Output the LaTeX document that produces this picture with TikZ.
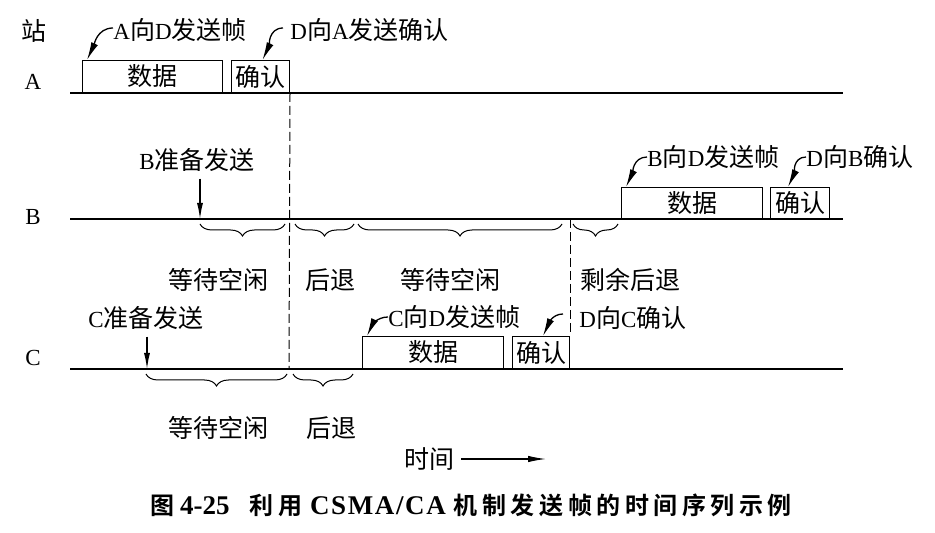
\documentclass[tikz,border=0pt]{standalone}
\usepackage{fontspec}
\setmainfont{Liberation Serif}
\newfontfamily\cjk{Noto Sans CJK SC}
\newfontfamily\cjkbold{Noto Sans CJK SC Bold}[LetterSpace=19]
\usetikzlibrary{arrows.meta, decorations.pathreplacing}
\newcommand{\zh}[1]{{\cjk\fontsize{12.5}{14}\selectfont #1}}

\begin{document}
\begin{tikzpicture}[x=0.5pt, y=-0.5pt,
          every node/.style={font=\fontsize{11.5}{14}\selectfont},
          frm/.style={draw, rectangle, inner sep=0pt, minimum height=16pt,
                      anchor=south west, line width=0.5pt},
          lbl/.style={inner sep=0pt, anchor=west},
          callarr/.style={-{Latex[length=9pt, width=3.6pt]}, line width=0.65pt},
          downarr/.style={-{Latex[length=8pt, width=3pt]}, line width=0.6pt},
          tline/.style={line width=0.7pt},
          vdash/.style={line width=0.5pt, dash pattern=on 4.5pt off 2pt},
          brc/.style={decorate, decoration={brace, mirror, amplitude=6pt},
                      line width=0.5pt}
        ]
        \useasboundingbox (0,0) rectangle (935,533);

        % Stations
        \node (hstn) at (34,31) {\zh{站}};
        \node (sa) at (33,82) {A};
        \node (sb) at (33,217) {B};
        \node (sc) at (33,358) {C};

        % Time lines
        \draw[tline] (70,93) -- (843,93);
        \draw[tline] (70,219) -- (843,219);
        \draw[tline] (70,369) -- (843,369);

        % Station A
        \node[frm, minimum width=70pt] (adata) at (82,93) {\zh{数据}};
        \node[frm, minimum width=29pt] (acfm) at (231,93) {\zh{确认}};
        \node[lbl] (tadf) at (113,30) {A\zh{向}D\zh{发送帧}};
        \node[lbl] (tdaa) at (290,30) {D\zh{向}A\zh{发送确认}};
        \draw[callarr] ([yshift=1pt]tadf.west) to[out=180, in=65]
              ([xshift=2.5pt]adata.north west);
        \draw[callarr] ([xshift=-3.5pt, yshift=1pt]tdaa.west) to[out=180, in=65]
              ([xshift=1pt]acfm.north);

        % Station B
        \node[frm, minimum width=70.5pt, minimum height=15.5pt] (bdata)
              at (621,219) {\zh{数据}};
        \node[frm, minimum width=29.5pt, minimum height=15.5pt] (bcfm)
              at (770,219) {\zh{确认}};
        \node[lbl] (tbdf) at (647,157) {B\zh{向}D\zh{发送帧}};
        \node[lbl] (tdbb) at (806,157) {D\zh{向}B\zh{确认}};
        \draw[callarr] (tbdf.west) to[out=180, in=65]
              ([xshift=2.5pt]bdata.north west);
        \draw[callarr] (tdbb.west) to[out=180, in=65]
              ([xshift=9pt]bcfm.north west);
        \node (tbrdy) at (197,160) {B\zh{准备发送}};
        \coordinate (bgo) at (200,219);
        \draw[downarr] (tbrdy.south -| bgo) -- (bgo);

        % Station C
        \node[frm, minimum width=70.5pt] (cdata) at (362,369) {\zh{数据}};
        \node[frm, minimum width=28.5pt] (ccfm) at (512,369) {\zh{确认}};
        \node[lbl] (tcdf) at (388,317) {C\zh{向}D\zh{发送帧}};
        \node[lbl] (tdcc) at (579,318) {D\zh{向}C\zh{确认}};
        \draw[callarr] (tcdf.west) to[out=180, in=65]
              ([xshift=2.5pt]cdata.north west);
        \draw[callarr] ([xshift=-8pt, yshift=2pt]tdcc.west) to[out=180, in=65]
              ([xshift=1pt]ccfm.north);
        \node (tcrdy) at (146,318) {C\zh{准备发送}};
        \coordinate (cgo) at (147,369);
        \draw[downarr] (tcrdy.south -| cgo) -- (cgo);

        % Dashed markers
        \coordinate (cend) at (289,369);
        \draw[vdash] (acfm.south east) -- (cend);
        \draw[vdash] (bcfm.south -| ccfm.north east) -- (ccfm.north east);

        % Braces under B
        \draw[brc] (200,224) -- (285,224);
        \draw[brc] (295,224) -- (354,224);
        \draw[brc] (358,224) -- (562,224);
        \draw[brc] (573,224) -- (618,224);
        \node (bw1) at (218,280) {\zh{等待空闲}};
        \node (bb1) at (330,280) {\zh{后退}};
        \node (bw2) at (450,280) {\zh{等待空闲}};
        \node (bb2) at (630,280) {\zh{剩余后退}};

        % Braces under C
        \draw[brc] (146,374) -- (287,374);
        \draw[brc] (293,374) -- (353,374);
        \node (cw1) at (218,428) {\zh{等待空闲}};
        \node (cb1) at (331,428) {\zh{后退}};

        % Time axis
        \node (ttime) at (429,459) {\zh{时间}};
        \coordinate (tend) at (546,459);
        \draw[-{Latex[length=9pt, width=3.2pt]}, line width=0.6pt]
              (ttime.east) -- (tend);

        % Caption
        \node (cap) at (471,505) {{\cjkbold\fontsize{12}{14}\selectfont 图}\hspace{3pt}%
              {\bfseries\fontsize{13.5}{14}\selectfont 4-25}\hspace{10pt}%
              {\cjkbold\fontsize{12}{14}\selectfont 利用}\hspace{4pt}%
              {\bfseries\addfontfeature{LetterSpace=6}\fontsize{13.5}{14}\selectfont
               CSMA/CA}\hspace{4pt}%
              {\cjkbold\fontsize{12}{14}\selectfont 机制发送帧的时间序列示例}};
      \end{tikzpicture}
\end{document}
